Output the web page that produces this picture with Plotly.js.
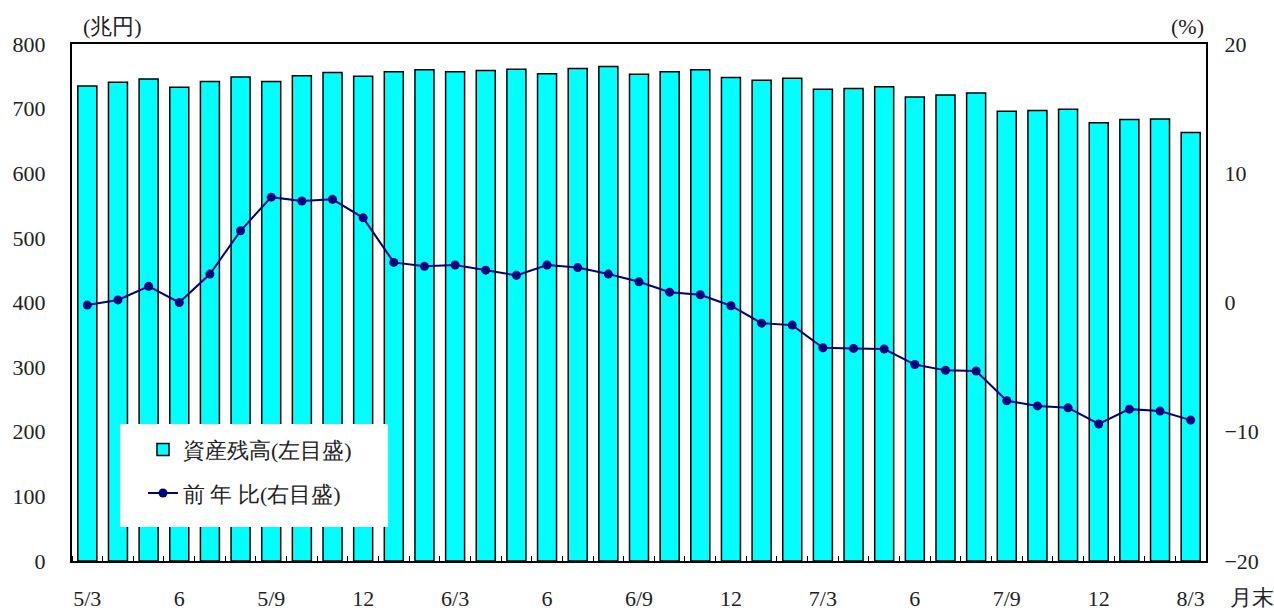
<!DOCTYPE html>
<html>
<head>
<meta charset="utf-8">
<script src="https://cdn.plot.ly/plotly-3.0.1.min.js"></script>
<style>html,body{margin:0;padding:0;background:#fff;}#chart{width:1274px;height:612px;}</style>
</head>
<body>
<div id="chart"></div>
<script>
// Month labels (only every third month labelled)
const months = ["5/3","","","6","","","5/9","","","12","","",
                "6/3","","","6","","","6/9","","","12","","",
                "7/3","","","6","","","7/9","","","12","","","8/3"];
// 資産残高 (兆円, left axis)
const assets = [735,741,746,733,742,749,742,751,756,750,757,760,
                757,759,761,754,762,765,753,757,760,748,744,747,
                730,731,734,718,721,724,696,697,699,678,683,684,663];
// 前年比 (%, right axis)
const yoy = [-0.2,0.2,1.25,0.0,2.2,5.55,8.15,7.85,7.98,6.55,3.1,2.8,
             2.9,2.5,2.1,2.9,2.7,2.2,1.6,0.8,0.6,-0.25,-1.6,-1.75,
             -3.5,-3.55,-3.6,-4.8,-5.25,-5.3,-7.6,-8.0,-8.15,-9.4,-8.25,-8.4,-9.1];
const barName = "資産残高(左目盛)";
const lineName = "前 年 比(右目盛)";

const idx = months.map((m,i)=>i);
const labVals = idx.filter(i=>months[i]!=="");
const labText = labVals.map(i=>months[i]);

const FONT = "Liberation Serif";
const TXT = "#222";
const SZ = 22;
const CLEAR = "rgba(0,0,0,0)";

const traces = [
  {type:"bar", x:idx, y:assets, name:barName, width:0.62,
   marker:{color:"#00ffff", line:{color:"#000", width:1.5}}, legendgroup:"a", hoverinfo:"skip"},
  {type:"scatter", mode:"lines+markers", x:idx, y:yoy, yaxis:"y2", name:lineName,
   line:{color:"#000080", width:2}, marker:{color:"#000080", size:9}, legendgroup:"b", hoverinfo:"skip"}
];

const layout = {
  width:1274, height:612,
  margin:{l:72, r:68, t:44, b:51},
  font:{family:FONT, size:SZ, color:TXT},
  xaxis:{range:[-0.5, idx.length-0.5], tickmode:"array", tickvals:labVals, ticktext:labText,
         ticks:"outside", ticklen:17, tickcolor:CLEAR, showgrid:false, zeroline:false,
         showline:true, linecolor:"#000", linewidth:2, mirror:true,
         minor:{tick0:0.5, dtick:1, ticks:"inside", ticklen:5, tickcolor:"#000", tickwidth:1, showgrid:false},
         tickfont:{family:FONT, size:SZ, color:TXT}},
  yaxis:{range:[0,800], dtick:100, ticks:"outside", ticklen:20, tickcolor:CLEAR,
         showgrid:false, zeroline:false, showline:true, linecolor:"#000", linewidth:2,
         tickfont:{family:FONT, size:SZ, color:TXT}},
  yaxis2:{range:[-20,20], dtick:10, overlaying:"y", side:"right",
          ticks:"outside", ticklen:12, tickcolor:CLEAR, showgrid:false, zeroline:false,
          showline:true, linecolor:"#000", linewidth:2, tickfont:{family:FONT, size:SZ, color:TXT}},
  yaxis3:{range:[0,800], dtick:100, overlaying:"y", side:"left", ticks:"inside", ticklen:6,
          tickcolor:"#000", showticklabels:false, showgrid:false, zeroline:false, showline:false},
  yaxis4:{range:[-20,20], dtick:10, overlaying:"y", side:"right", ticks:"inside", ticklen:6,
          tickcolor:"#000", showticklabels:false, showgrid:false, zeroline:false, showline:false},
  legend:{x:0.0626, y:0.256, xanchor:"left", yanchor:"top", bgcolor:CLEAR, borderwidth:0,
          traceorder:"grouped", tracegroupgap:12, font:{family:FONT, size:SZ, color:TXT}},
  shapes:[{type:"rect", xref:"paper", yref:"paper", x0:0.0423, x1:0.2787, y0:0.0658, y1:0.265,
           fillcolor:"#fff", line:{width:0}, layer:"above"}],
  annotations:[
    {text:"(兆円)", xref:"paper", yref:"paper", x:0.008, y:1.006, xanchor:"left", yanchor:"bottom",
     showarrow:false, font:{family:FONT, size:SZ, color:TXT}},
    {text:"(%)", xref:"paper", yref:"paper", x:1.0, y:1.006, xanchor:"right", yanchor:"bottom",
     showarrow:false, font:{family:FONT, size:SZ, color:TXT}},
    {text:"月末", xref:"paper", yref:"paper", x:1.019, y:-0.043, xanchor:"left", yanchor:"top",
     showarrow:false, font:{family:FONT, size:SZ, color:TXT}}
  ]
};

Plotly.newPlot("chart", traces, layout, {staticPlot:true});
</script>
</body>
</html>
